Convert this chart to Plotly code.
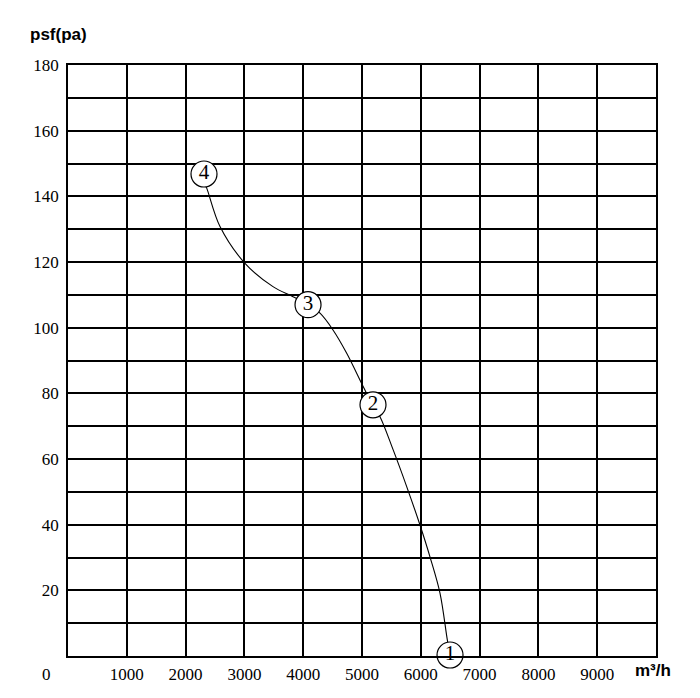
import plotly.graph_objects as go

# fan curve (airflow m3/h, static pressure pa)
curve_x = [2330, 2359, 2585, 3010, 3486, 3827, 4087, 4286, 4507, 4740, 5022,
           5192, 5306, 5532, 5760, 5986, 6156, 6327, 6451, 6497]
curve_y = [143.5, 142.5, 130.8, 119.6, 112.5, 109.4, 106.9, 104.4, 99.3, 92.2, 82.0,
           76.1, 72.9, 62.7, 51.6, 39.9, 30.2, 19.1, 4.9, 0.3]

# numbered operating points
point_x = [6497, 5187, 4082, 2313]
point_y = [0.3, 76.5, 107.0, 146.8]
point_labels = ["1", "2", "3", "4"]

x_ticks = [1000, 2000, 3000, 4000, 5000, 6000, 7000, 8000, 9000]
y_ticks = [0, 10, 20, 30, 40, 50, 60, 70, 80, 90, 100, 110, 120, 130, 140, 150, 160, 170, 180]
y_ticktext = ["", "", "20", "", "40", "", "60", "", "80", "", "100", "", "120", "",
              "140", "", "160", "", "180"]

tick_font = dict(family="Liberation Serif", size=17, color="black")

fig = go.Figure()

fig.add_trace(
    go.Scatter(
        x=curve_x,
        y=curve_y,
        mode="lines",
        line=dict(color="black", width=1.1, shape="spline"),
        hoverinfo="skip",
    )
)

fig.add_trace(
    go.Scatter(
        x=point_x,
        y=point_y,
        mode="markers+text",
        text=point_labels,
        textposition="middle center",
        textfont=dict(family="Liberation Serif", size=21, color="black"),
        marker=dict(symbol="circle", size=26, color="white",
                    line=dict(color="black", width=1.2)),
        cliponaxis=False,
    )
)

# page is drawn 8px in from the window edge, margins account for that
fig.update_layout(
    width=700,
    height=698,
    margin=dict(l=60, r=52, t=57, b=50),
    plot_bgcolor="white",
    paper_bgcolor="white",
    showlegend=False,
    font=dict(family="Liberation Serif", size=17, color="black"),
    xaxis=dict(
        range=[0, 10000],
        tickvals=x_ticks,
        ticks="",
        tickfont=tick_font,
        showgrid=True,
        gridcolor="black",
        gridwidth=1.6,
        zeroline=False,
        showline=True,
        linecolor="black",
        linewidth=1.6,
        mirror=True,
        ticklabelstandoff=2,
    ),
    yaxis=dict(
        range=[0, 180],
        tickvals=y_ticks,
        ticktext=y_ticktext,
        ticks="",
        tickfont=tick_font,
        showgrid=True,
        gridcolor="black",
        gridwidth=1.6,
        zeroline=False,
        showline=True,
        linecolor="black",
        linewidth=1.6,
        mirror=True,
        ticklabelstandoff=4,
    ),
    annotations=[
        dict(text="<b>psf(pa)</b>", xref="paper", yref="paper", x=-0.068, y=1.051,
             xanchor="left", yanchor="middle", showarrow=False,
             font=dict(family="Liberation Sans", size=17)),
        dict(text="<b>m³/h</b>", xref="paper", yref="paper", x=0.961, y=-0.024,
             xanchor="left", yanchor="middle", showarrow=False,
             font=dict(family="Liberation Sans", size=17)),
        dict(text="0", xref="paper", yref="paper", x=-0.036, y=-0.032,
             xanchor="center", yanchor="middle", showarrow=False,
             font=tick_font),
    ],
)

fig.write_html("out.html")
